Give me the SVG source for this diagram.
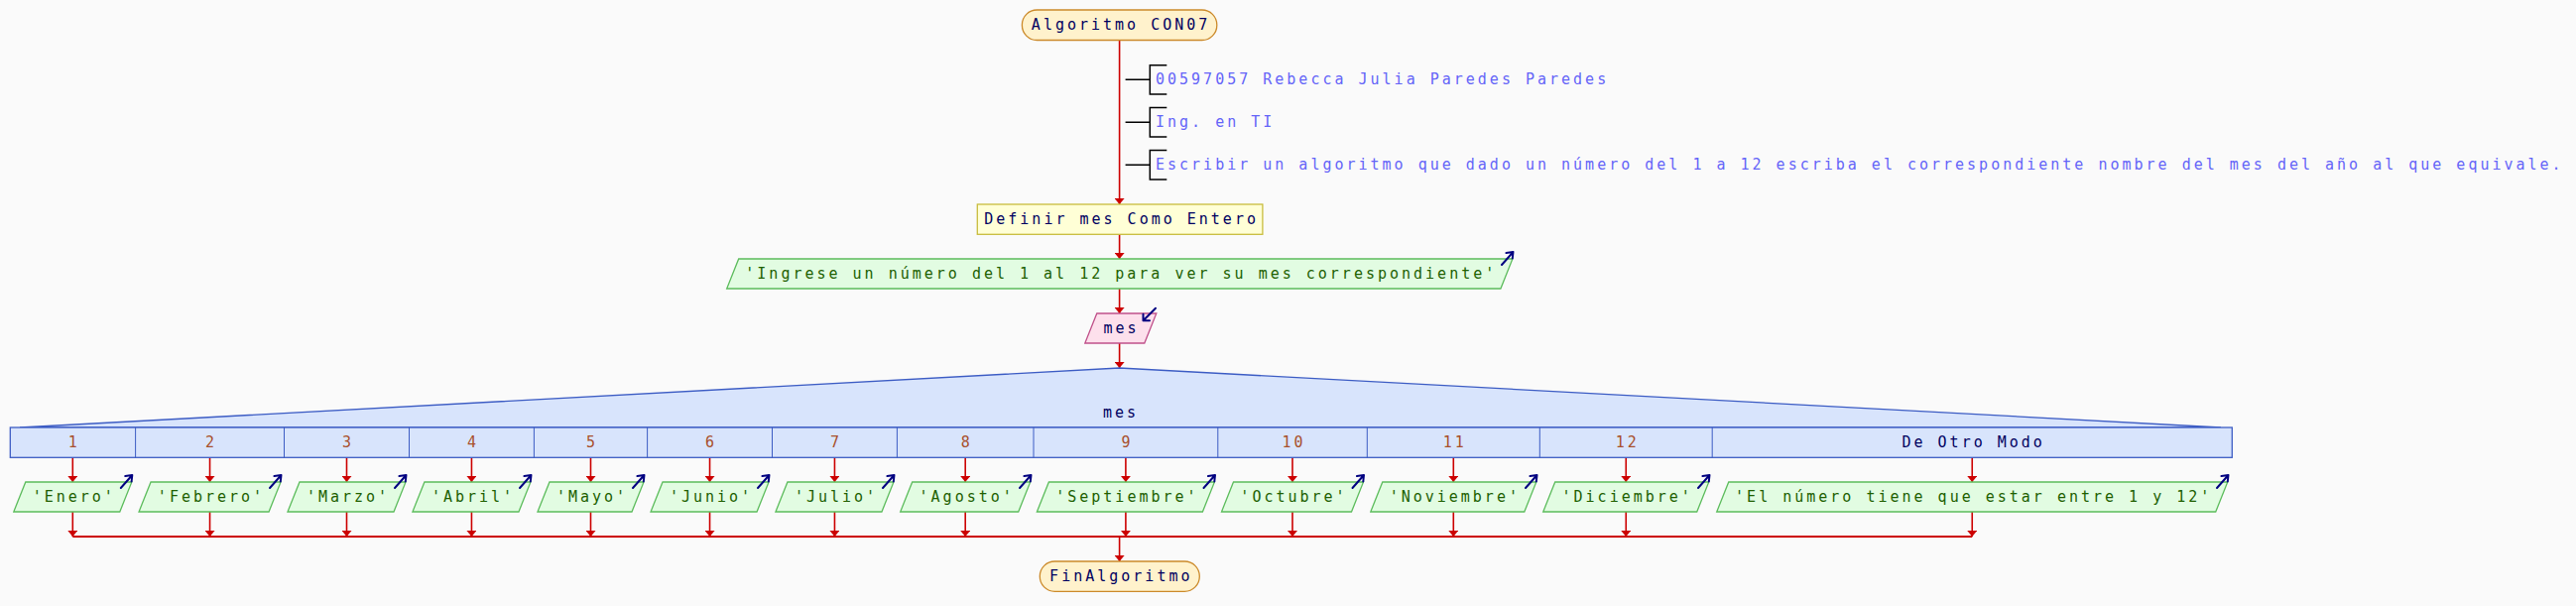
<svg xmlns="http://www.w3.org/2000/svg" width="2597" height="611" viewBox="0 0 2597 611">
<style>
text{font-family:"DejaVu Sans Mono","Liberation Mono",monospace;font-size:15px;letter-spacing:3px;}
.c{text-anchor:middle;}
.term{fill:#fff2cc;stroke:#cc8a2a;stroke-width:1.3;}
.def{fill:#ffffd6;stroke:#c8bc3c;stroke-width:1.3;}
.out{fill:#e2fce2;stroke:#5cbc5c;stroke-width:1.3;}
.inp{fill:#fde0ec;stroke:#c0508a;stroke-width:1.3;}
.sw{fill:#d8e4fc;stroke:#3c5cc4;stroke-width:1.3;}
.div{stroke:#3c5cc4;stroke-width:1;fill:none;}
.tk{fill:#000060;}
.tg{fill:#206000;}
.tn{fill:#a8502c;}
.tcm{fill:#6464f8;}
.br{stroke:#000;stroke-width:1.5;fill:none;}
.ic{stroke:#000080;stroke-width:2;fill:none;stroke-linecap:round;stroke-linejoin:round;}
.cn{stroke:#cc0000;stroke-width:1.6;fill:none;}
</style>
<defs>
<marker id="ah" markerUnits="userSpaceOnUse" viewBox="0 0 6 10" refX="6" refY="5" markerWidth="6" markerHeight="10" orient="auto">
<path d="M0,0 L6,5 L0,10 z" fill="#cc0000"/>
</marker>
</defs>
<rect x="0" y="0" width="2597" height="611" fill="#fafafa"/>

<g id="connectors">
<line class="cn" x1="1128.6" y1="41" x2="1128.6" y2="206" marker-end="url(#ah)"/>
<line class="cn" x1="1128.6" y1="236" x2="1128.6" y2="261" marker-end="url(#ah)"/>
<line class="cn" x1="1128.6" y1="291" x2="1128.6" y2="316" marker-end="url(#ah)"/>
<line class="cn" x1="1128.6" y1="346" x2="1128.6" y2="371" marker-end="url(#ah)"/>
<line class="cn" x1="73.3" y1="461" x2="73.3" y2="486" marker-end="url(#ah)"/>
<line class="cn" x1="211.55" y1="461" x2="211.55" y2="486" marker-end="url(#ah)"/>
<line class="cn" x1="349.5" y1="461" x2="349.5" y2="486" marker-end="url(#ah)"/>
<line class="cn" x1="475.45" y1="461" x2="475.45" y2="486" marker-end="url(#ah)"/>
<line class="cn" x1="595.5" y1="461" x2="595.5" y2="486" marker-end="url(#ah)"/>
<line class="cn" x1="715.55" y1="461" x2="715.55" y2="486" marker-end="url(#ah)"/>
<line class="cn" x1="841.45" y1="461" x2="841.45" y2="486" marker-end="url(#ah)"/>
<line class="cn" x1="973.2" y1="461" x2="973.2" y2="486" marker-end="url(#ah)"/>
<line class="cn" x1="1134.9" y1="461" x2="1134.9" y2="486" marker-end="url(#ah)"/>
<line class="cn" x1="1303" y1="461" x2="1303" y2="486" marker-end="url(#ah)"/>
<line class="cn" x1="1465.3" y1="461" x2="1465.3" y2="486" marker-end="url(#ah)"/>
<line class="cn" x1="1639.25" y1="461" x2="1639.25" y2="486" marker-end="url(#ah)"/>
<line class="cn" x1="1988.25" y1="461" x2="1988.25" y2="486" marker-end="url(#ah)"/>
<line class="cn" x1="73.3" y1="516" x2="73.3" y2="541" marker-end="url(#ah)"/>
<line class="cn" x1="211.55" y1="516" x2="211.55" y2="541" marker-end="url(#ah)"/>
<line class="cn" x1="349.5" y1="516" x2="349.5" y2="541" marker-end="url(#ah)"/>
<line class="cn" x1="475.45" y1="516" x2="475.45" y2="541" marker-end="url(#ah)"/>
<line class="cn" x1="595.5" y1="516" x2="595.5" y2="541" marker-end="url(#ah)"/>
<line class="cn" x1="715.55" y1="516" x2="715.55" y2="541" marker-end="url(#ah)"/>
<line class="cn" x1="841.45" y1="516" x2="841.45" y2="541" marker-end="url(#ah)"/>
<line class="cn" x1="973.2" y1="516" x2="973.2" y2="541" marker-end="url(#ah)"/>
<line class="cn" x1="1134.9" y1="516" x2="1134.9" y2="541" marker-end="url(#ah)"/>
<line class="cn" x1="1303" y1="516" x2="1303" y2="541" marker-end="url(#ah)"/>
<line class="cn" x1="1465.3" y1="516" x2="1465.3" y2="541" marker-end="url(#ah)"/>
<line class="cn" x1="1639.25" y1="516" x2="1639.25" y2="541" marker-end="url(#ah)"/>
<line class="cn" x1="1988.25" y1="516" x2="1988.25" y2="541" marker-end="url(#ah)"/>
<line class="cn" x1="73.3" y1="541" x2="1988.25" y2="541" style="stroke-width:2"/>
<line class="cn" x1="1128.6" y1="541" x2="1128.6" y2="566" marker-end="url(#ah)"/>
</g>

<g id="start">
<rect class="term" x="1030.4" y="10" width="196.4" height="30.5" rx="15" ry="15"/>
<text class="c tk" x="1130.1" y="30">Algoritmo CON07</text>
</g>

<g id="comment1">
<path class="br" d="M1134.6,80.3 H1159.3 M1176.3,65.7 H1159.3 V95 H1176.3"/>
<text class="tcm" x="1165" y="85">00597057 Rebecca Julia Paredes Paredes</text>
</g>
<g id="comment2">
<path class="br" d="M1134.6,123.3 H1159.3 M1176.3,108.6 H1159.3 V138 H1176.3"/>
<text class="tcm" x="1165" y="128">Ing. en TI</text>
</g>
<g id="comment3">
<path class="br" d="M1134.6,166.3 H1159.3 M1176.3,151.6 H1159.3 V181 H1176.3"/>
<text class="tcm" x="1165" y="171">Escribir un algoritmo que dado un número del 1 a 12 escriba el correspondiente nombre del mes del año al que equivale.</text>
</g>

<g id="definir">
<rect class="def" x="985.3" y="206" width="287.6" height="30.3"/>
<text class="c tk" x="1130.6" y="226">Definir mes Como Entero</text>
</g>

<g id="prompt">
<polygon class="out" points="744.7,261 1524.9,261 1512.9,291 732.7,291"/>
<text class="c tg" x="1130.3" y="281">'Ingrese un número del 1 al 12 para ver su mes correspondiente'</text>
<path class="ic" d="M1514,267 L1525.5,254 M1518.5,255 L1525.5,254 L1524.8,260.5"/>
</g>

<g id="leer">
<polygon class="inp" points="1105.8,316 1165.8,316 1153.8,346 1093.8,346"/>
<text class="c tk" x="1130.6" y="336">mes</text>
<path class="ic" d="M1165,310.7 L1152.5,323.3 M1152.5,316.8 L1152.5,323.3 L1159,323.3"/>
</g>

<g id="segun">
<polygon class="sw" points="20,431 1128.6,371 2239,431" />
<rect class="sw" x="10.3" y="431" width="2240" height="30.3"/>
<path class="div" d="M136.6,431V461.3 M286.5,431V461.3 M412.5,431V461.3 M538.4,431V461.3 M652.6,431V461.3 M778.5,431V461.3 M904.4,431V461.3 M1042,431V461.3 M1227.8,431V461.3 M1378.3,431V461.3 M1552.3,431V461.3 M1726.2,431V461.3"/>
<text class="c tk" x="1130.1" y="421">mes</text>
<text class="c tn" x="74.8" y="451">1</text>
<text class="c tn" x="213" y="451">2</text>
<text class="c tn" x="351" y="451">3</text>
<text class="c tn" x="477" y="451">4</text>
<text class="c tn" x="597" y="451">5</text>
<text class="c tn" x="717" y="451">6</text>
<text class="c tn" x="843" y="451">7</text>
<text class="c tn" x="974.7" y="451">8</text>
<text class="c tn" x="1136.4" y="451">9</text>
<text class="c tn" x="1304.5" y="451">10</text>
<text class="c tn" x="1466.8" y="451">11</text>
<text class="c tn" x="1640.7" y="451">12</text>
<text class="c tk" x="1989.7" y="451">De Otro Modo</text>
</g>

<g id="out1">
<polygon class="out" points="25.8,486 132.8,486 120.8,516 13.8,516"/>
<text class="c tg" x="74.8" y="506">'Enero'</text>
<path class="ic" d="M121.8,492 L133.3,479 M126.3,480 L133.3,479 L132.6,485.5"/>
</g>
<g id="out2">
<polygon class="out" points="152.05,486 283.05,486 271.05,516 140.05,516"/>
<text class="c tg" x="213" y="506">'Febrero'</text>
<path class="ic" d="M272,492 L283.5,479 M276.5,480 L283.5,479 L282.8,485.5"/>
</g>
<g id="out3">
<polygon class="out" points="302,486 409,486 397,516 290,516"/>
<text class="c tg" x="351" y="506">'Marzo'</text>
<path class="ic" d="M398,492 L409.5,479 M402.5,480 L409.5,479 L408.8,485.5"/>
</g>
<g id="out4">
<polygon class="out" points="427.95,486 534.95,486 522.95,516 415.95,516"/>
<text class="c tg" x="477" y="506">'Abril'</text>
<path class="ic" d="M524,492 L535.5,479 M528.5,480 L535.5,479 L534.8,485.5"/>
</g>
<g id="out5">
<polygon class="out" points="554,486 649,486 637,516 542,516"/>
<text class="c tg" x="597" y="506">'Mayo'</text>
<path class="ic" d="M638,492 L649.5,479 M642.5,480 L649.5,479 L648.8,485.5"/>
</g>
<g id="out6">
<polygon class="out" points="668.05,486 775.05,486 763.05,516 656.05,516"/>
<text class="c tg" x="717" y="506">'Junio'</text>
<path class="ic" d="M764,492 L775.5,479 M768.5,480 L775.5,479 L774.8,485.5"/>
</g>
<g id="out7">
<polygon class="out" points="793.95,486 900.95,486 888.95,516 781.95,516"/>
<text class="c tg" x="843" y="506">'Julio'</text>
<path class="ic" d="M890,492 L901.5,479 M894.5,480 L901.5,479 L900.8,485.5"/>
</g>
<g id="out8">
<polygon class="out" points="919.7,486 1038.7,486 1026.7,516 907.7,516"/>
<text class="c tg" x="974.7" y="506">'Agosto'</text>
<path class="ic" d="M1028,492 L1039.5,479 M1032.5,480 L1039.5,479 L1038.8,485.5"/>
</g>
<g id="out9">
<polygon class="out" points="1057.4,486 1224.4,486 1212.4,516 1045.4,516"/>
<text class="c tg" x="1136.4" y="506">'Septiembre'</text>
<path class="ic" d="M1213.5,492 L1225,479 M1218,480 L1225,479 L1224.3,485.5"/>
</g>
<g id="out10">
<polygon class="out" points="1243.5,486 1374.5,486 1362.5,516 1231.5,516"/>
<text class="c tg" x="1304.5" y="506">'Octubre'</text>
<path class="ic" d="M1363.5,492 L1375,479 M1368,480 L1375,479 L1374.3,485.5"/>
</g>
<g id="out11">
<polygon class="out" points="1393.8,486 1548.8,486 1536.8,516 1381.8,516"/>
<text class="c tg" x="1466.8" y="506">'Noviembre'</text>
<path class="ic" d="M1538,492 L1549.5,479 M1542.5,480 L1549.5,479 L1548.8,485.5"/>
</g>
<g id="out12">
<polygon class="out" points="1567.75,486 1722.75,486 1710.75,516 1555.75,516"/>
<text class="c tg" x="1640.7" y="506">'Diciembre'</text>
<path class="ic" d="M1712,492 L1723.5,479 M1716.5,480 L1723.5,479 L1722.8,485.5"/>
</g>
<g id="out13">
<polygon class="out" points="1742.75,486 2245.75,486 2233.75,516 1730.75,516"/>
<text class="c tg" x="1989.7" y="506">'El número tiene que estar entre 1 y 12'</text>
<path class="ic" d="M2235,492 L2246.5,479 M2239.5,480 L2246.5,479 L2245.8,485.5"/>
</g>

<g id="end">
<rect class="term" x="1048.3" y="566" width="161" height="30.3" rx="15" ry="15"/>
<text class="c tk" x="1130.3" y="586">FinAlgoritmo</text>
</g>
</svg>
